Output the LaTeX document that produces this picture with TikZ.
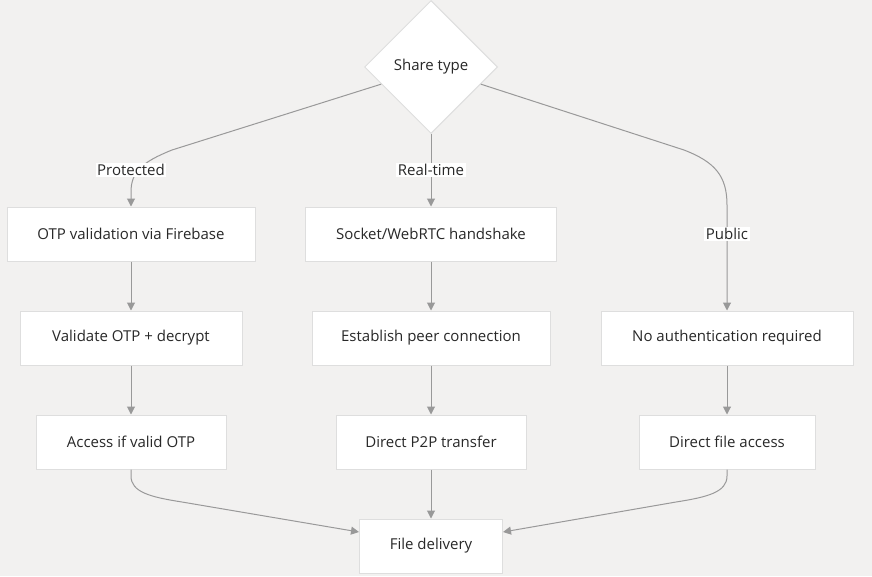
\documentclass[tikz,border=0pt]{standalone}
\usepackage{fontspec}
\setmainfont{Open Sans}
\usepackage{tikz}
\usetikzlibrary{arrows.meta,positioning,shapes.geometric}
\definecolor{bgfill}{RGB}{242,241,240}
\definecolor{boxline}{RGB}{222,222,222}
\definecolor{edgeline}{RGB}{153,153,153}
\definecolor{textc}{RGB}{40,40,40}
\begin{document}
\begin{tikzpicture}[x=1pt,y=-1pt,
  font=\fontsize{15}{17}\selectfont, text=textc,
  >={Triangle[length=8pt,width=8pt]},
  box/.style={draw=boxline, line width=1pt, fill=white, minimum height=54pt, inner sep=2pt, align=center},
  choice/.style={diamond, draw=boxline, line width=1pt, fill=white, minimum size=133pt, inner sep=0pt, aspect=1},
  lbl/.style={fill=white, inner sep=1.5pt},
  edge/.style={draw=edgeline, line width=1pt, ->},
]
\fill[bgfill] (0,0) rectangle (872,576);
\useasboundingbox (0,0) rectangle (872,576);
\node[choice] (share) at (431,67) {Share type};
\node[box, minimum width=248pt] (otp) at (131,234) {OTP validation via Firebase};
\node[box, minimum width=251pt] (sock) at (431,234) {Socket/WebRTC handshake};
\node[box, minimum width=222pt] (valid) at (131,338) {Validate OTP + decrypt};
\node[box, minimum width=238pt] (peer) at (431,338) {Establish peer connection};
\node[box, minimum width=252pt] (noauth) at (727,338) {No authentication required};
\node[box, minimum width=190pt] (acc) at (131,442) {Access if valid OTP};
\node[box, minimum width=190pt] (p2p) at (431,442) {Direct P2P transfer};
\node[box, minimum width=176pt] (dfa) at (727,442) {Direct file access};
\node[box, minimum width=143pt] (file) at (431,546) {File delivery};
\draw[edge] (share.199) -- (172,150) .. controls (142,162) and (131,172) .. (131,192) -- (otp.north);
\draw[edge] (share.south) -- (sock.north);
\draw[edge] (share.-19) -- (684,150) .. controls (715,162) and (727,176) .. (727,205) -- (noauth.north);
\draw[edge] (otp) -- (valid);
\draw[edge] (valid) -- (acc);
\draw[edge] (sock) -- (peer);
\draw[edge] (peer) -- (p2p);
\draw[edge] (noauth) -- (dfa);
\draw[edge] (acc.south) -- (131,476) .. controls (131,492) and (150,497) .. (182,502) -- (file.169);
\draw[edge] (p2p) -- (file);
\draw[edge] (dfa.south) -- (727,476) .. controls (727,492) and (708,497) .. (676,502) -- (file.11);
\node[lbl] (lprot) at (131,170) {Protected};
\node[lbl] (lreal) at (431,170) {Real-time};
\node[lbl] (lpub) at (727,234) {Public};
\end{tikzpicture}
\end{document}
